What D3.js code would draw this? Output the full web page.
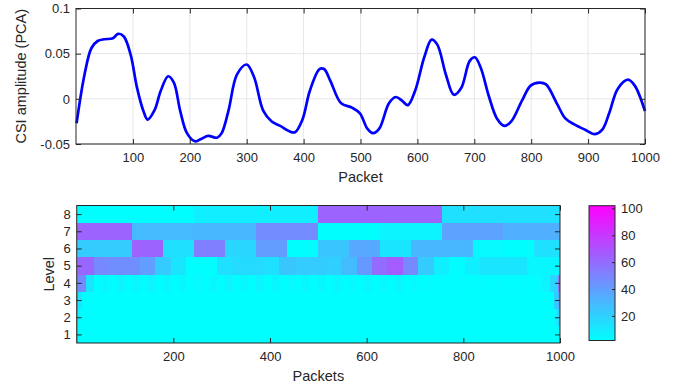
<!DOCTYPE html>
<html>
<head>
<meta charset="utf-8">
<script src="https://cdn.jsdelivr.net/npm/d3@7"></script>
<style>
  body { margin: 0; background: #fff; }
  svg { display: block; font-family: "Liberation Sans", Arial, sans-serif; }
  text { fill: #262626; }
</style>
</head>
<body>
<div id="chart"></div>
<script>
// ---- data: CSI amplitude after PCA (top) ----
var packetIdx = [1,15,27,38,50,65,74,84,96,107,118,126,138,149,162,172,183,195,209,218,232,248,256,268,283,300,313,329,344,359,375,385,398,411,428,436,447,466,485,499,512,522,533,550,562,573,583,596,612,625,635,650,664,677,692,701,711,726,740,753,765,784,799,814,826,845,860,875,894,912,925,937,952,970,982,1000];
var csiAmp = [-0.027,0.027,0.056,0.064,0.066,0.067,0.072,0.069,0.049,0.013,-0.0126,-0.023,-0.0126,0.009,0.025,0.018,-0.013,-0.038,-0.047,-0.045,-0.041,-0.043,-0.038,-0.013,0.027,0.038,0.024,-0.013,-0.025,-0.030,-0.036,-0.037,-0.023,0.009,0.033,0.033,0.020,-0.005,-0.0097,-0.016,-0.033,-0.038,-0.033,-0.005,0.002,-0.002,-0.007,0.009,0.046,0.0655,0.060,0.027,0.0045,0.012,0.042,0.046,0.035,0.002,-0.022,-0.030,-0.025,-0.0017,0.0146,0.018,0.016,-0.005,-0.0217,-0.028,-0.034,-0.039,-0.034,-0.016,0.011,0.0212,0.0146,-0.0137];
var topXTicks = [100,200,300,400,500,600,700,800,900,1000];
var topYTicks = [-0.05,0,0.05,0.1];
var topYLabels = ["-0.05","0","0.05","0.1"];

// ---- data: energy per decomposition level (bottom), block edges in packets ----
var level8Edges = [1,243,499,755,1000];
var level8Vals = [2,8,63,14];
var level7Edges = [1,115,243,371,499,627,755,883,1000];
var level7Vals = [63,29,30,47,2,6,38,33];
var level6Edges = [1,51,115,179,243,307,371,435,499,563,627,691,755,819,883,947,1000];
var level6Vals = [22,22,63,14,52,18,40,2,24,36,12,30,30,4,2,14];
var level5Edges = [1,3,35,67,99,131,163,195,227,259,291,323,355,387,419,451,483,515,547,579,611,643,675,707,739,771,803,835,867,899,931,963,995,1000];
var level5Vals = [50,62,48,46,46,40,22,12,2,2,14,16,16,14,24,22,22,20,28,42,60,66,48,22,8,2,8,12,12,12,5,5,5];
var level4Edges = [1,3,19,35,51,67,83,99,115,131,147,163,179,195,211,227,243,259,275,291,307,323,339,355,371,387,403,419,435,451,467,483,499,515,531,547,563,579,595,611,627,643,659,675,691,707,723,739,755,771,787,803,819,835,851,867,883,899,915,931,947,963,979,995,1000];
var level4Vals = [50,48,12,2,5,2,6,2,5,3,6,2,5,2,5,2,4,2,5,2,6,2,5,2,6,2,5,2,4,2,5,2,5,2,5,2,4,2,5,2,4,2,5,2,4,2,3,2,3,2,3,2,2,3,2,3,2,2,3,2,3,6,18,55];
var level3Edges = [1,3,11,987,995,1000];
var level3Vals = [52,12,2,22,32];
var level2Edges = [1,3,7,991,995,1000];
var level2Vals = [40,6,2,10,18];
var level1Edges = [1,3,997,1000];
var level1Vals = [40,2,8];
var levelTicks = [1,2,3,4,5,6,7,8];
var bottomXTicks = [200,400,600,800,1000];
var cbarTicks = [20,40,60,80,100];

var width = 683, height = 390;
var svg = d3.select("#chart").append("svg")
  .attr("width", width).attr("height", height);

var axisColor = "#262626";
var tickFont = 13, labelFont = 14.5;

// MATLAB "cool" colormap
function cool(t) {
  t = Math.max(0, Math.min(1, t));
  return d3.rgb(255 * t, 255 * (1 - t), 255).toString();
}

// ================= top: line chart =================
var x1 = d3.scaleLinear().domain([0, 1000]).range([76, 645]);
var y1 = d3.scaleLinear().domain([-0.05, 0.1]).range([144, 8.5]);

// grid
svg.append("g").selectAll("line").data(topXTicks).enter().append("line")
  .attr("x1", d => x1(d)).attr("x2", d => x1(d))
  .attr("y1", y1(-0.05)).attr("y2", y1(0.1))
  .attr("stroke", "#e0e0e0").attr("stroke-width", 0.8);
svg.append("g").selectAll("line").data(topYTicks).enter().append("line")
  .attr("x1", x1(0)).attr("x2", x1(1000))
  .attr("y1", d => y1(d)).attr("y2", d => y1(d))
  .attr("stroke", "#e0e0e0").attr("stroke-width", 0.8);

var pts = packetIdx.map((p, i) => [p, csiAmp[i]]);
var line = d3.line()
  .x(d => x1(d[0])).y(d => y1(d[1]))
  .curve(d3.curveCatmullRom.alpha(0.5));

svg.append("path").datum(pts)
  .attr("d", line)
  .attr("fill", "none")
  .attr("stroke", "#0000ff")
  .attr("stroke-width", 2.7)
  .attr("stroke-linejoin", "round");

// axes (inward ticks on all sides)
var tl = 5;
svg.append("g").attr("transform", "translate(0," + y1(-0.05) + ")")
  .call(d3.axisBottom(x1).tickValues(topXTicks).tickSizeInner(-tl).tickSizeOuter(0).tickPadding(9).tickFormat(d3.format("d")));
svg.append("g").attr("transform", "translate(0," + y1(0.1) + ")")
  .call(d3.axisTop(x1).tickValues(topXTicks).tickSizeInner(-tl).tickSizeOuter(0).tickFormat(""));
svg.append("g").attr("transform", "translate(" + x1(0) + ",0)")
  .call(d3.axisLeft(y1).tickValues(topYTicks).tickSizeInner(-tl).tickSizeOuter(0).tickPadding(6)
    .tickFormat((d, i) => topYLabels[i]));
svg.append("g").attr("transform", "translate(" + x1(1000) + ",0)")
  .call(d3.axisRight(y1).tickValues(topYTicks).tickSizeInner(-tl).tickSizeOuter(0).tickFormat(""));

svg.append("rect")
  .attr("x", x1(0)).attr("y", y1(0.1))
  .attr("width", x1(1000) - x1(0)).attr("height", y1(-0.05) - y1(0.1))
  .attr("fill", "none").attr("stroke", axisColor).attr("stroke-width", 1);

svg.append("text")
  .attr("x", (x1(0) + x1(1000)) / 2).attr("y", 182)
  .attr("text-anchor", "middle").attr("font-size", labelFont)
  .text("Packet");
svg.append("text")
  .attr("transform", "translate(26," + (y1(0.1) + y1(-0.05)) / 2 + ") rotate(-90)")
  .attr("text-anchor", "middle").attr("font-size", labelFont)
  .text("CSI amplitude (PCA)");

// ================= bottom: level heatmap =================
var x2 = d3.scaleLinear().domain([0, 1000]).range([76.7, 560]);
var y2 = d3.scaleLinear().domain([0.5, 8.5]).range([343, 205.5]);
var cMin = 1.7, cMax = 102;
var color = d3.scaleLinear().domain([cMin, cMax]).range([0, 1]).clamp(true);

var levelEdges = [level1Edges, level2Edges, level3Edges, level4Edges, level5Edges, level6Edges, level7Edges, level8Edges];
var levelVals = [level1Vals, level2Vals, level3Vals, level4Vals, level5Vals, level6Vals, level7Vals, level8Vals];

var cells = [];
levelTicks.forEach((lev, i) => {
  var edges = levelEdges[i];
  levelVals[i].forEach((v, j) => {
    cells.push({ level: lev, x0: edges[j] === 1 ? 0 : edges[j], x1: edges[j + 1], value: v });
  });
});

svg.append("g").selectAll("rect").data(cells).enter().append("rect")
  .attr("x", d => x2(d.x0))
  .attr("y", d => y2(d.level + 0.5))
  .attr("width", d => x2(d.x1) - x2(d.x0) + 0.3)
  .attr("height", d => y2(d.level - 0.5) - y2(d.level + 0.5) + 0.3)
  .attr("fill", d => cool(color(d.value)))
  .attr("shape-rendering", "crispEdges");

svg.append("g").attr("transform", "translate(0," + y2(0.5) + ")")
  .call(d3.axisBottom(x2).tickValues(bottomXTicks).tickSizeInner(-tl).tickSizeOuter(0).tickPadding(9).tickFormat(d3.format("d")));
svg.append("g").attr("transform", "translate(0," + y2(8.5) + ")")
  .call(d3.axisTop(x2).tickValues(bottomXTicks).tickSizeInner(-tl).tickSizeOuter(0).tickFormat(""));
svg.append("g").attr("transform", "translate(" + x2(0) + ",0)")
  .call(d3.axisLeft(y2).tickValues(levelTicks).tickSizeInner(-tl).tickSizeOuter(0).tickPadding(6));
svg.append("g").attr("transform", "translate(" + x2(1000) + ",0)")
  .call(d3.axisRight(y2).tickValues(levelTicks).tickSizeInner(-tl).tickSizeOuter(0).tickFormat(""));

svg.append("rect")
  .attr("x", x2(0)).attr("y", y2(8.5))
  .attr("width", x2(1000) - x2(0)).attr("height", y2(0.5) - y2(8.5))
  .attr("fill", "none").attr("stroke", axisColor).attr("stroke-width", 1);

svg.append("text")
  .attr("x", (x2(0) + x2(1000)) / 2).attr("y", 381)
  .attr("text-anchor", "middle").attr("font-size", labelFont)
  .text("Packets");
svg.append("text")
  .attr("transform", "translate(54," + (y2(0.5) + y2(8.5)) / 2 + ") rotate(-90)")
  .attr("text-anchor", "middle").attr("font-size", labelFont)
  .text("Level");

// ================= colorbar =================
var cbX = 589, cbW = 26;
var cy = d3.scaleLinear().domain([cMin, cMax]).range([340.5, 205.7]);

var defs = svg.append("defs");
var grad = defs.append("linearGradient").attr("id", "coolGrad")
  .attr("x1", 0).attr("y1", 1).attr("x2", 0).attr("y2", 0);
d3.range(0, 1.0001, 0.1).forEach(t => {
  grad.append("stop").attr("offset", t).attr("stop-color", cool(t));
});

svg.append("rect")
  .attr("x", cbX).attr("y", cy(cMax))
  .attr("width", cbW).attr("height", cy(cMin) - cy(cMax))
  .attr("fill", "url(#coolGrad)")
  .attr("stroke", axisColor).attr("stroke-width", 1);

svg.append("g").attr("transform", "translate(" + (cbX + cbW) + ",0)")
  .call(d3.axisRight(cy).tickValues(cbarTicks).tickSizeInner(-3).tickSizeOuter(0).tickPadding(6));

// style the axes like MATLAB
svg.selectAll(".domain").remove();
svg.selectAll(".tick line").attr("stroke", axisColor).attr("stroke-width", 1);
svg.selectAll(".tick text").attr("font-size", tickFont).attr("fill", axisColor)
  .attr("font-family", "Liberation Sans, Arial, sans-serif");
</script>
</body>
</html>
